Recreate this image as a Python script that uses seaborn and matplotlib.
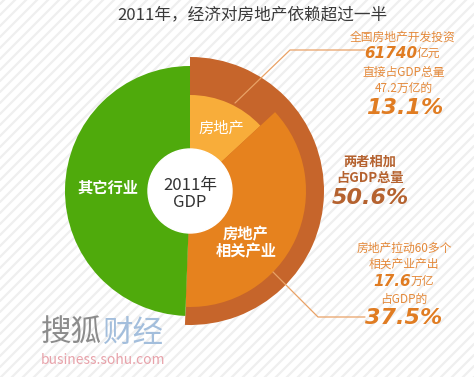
import matplotlib
matplotlib.use('Agg')
import matplotlib.pyplot as plt
import seaborn as sns

sns.set_theme(style='white')
plt.rcParams['font.family'] = ['Noto Sans CJK SC', 'DejaVu Sans']

W, H = 474, 377

# 2011年GDP构成（%），顺时针从12点开始
segments = ['房地产', '房地产\n相关产业', '其它行业']
shares = [13.1, 37.5, 49.4]
combined = [50.6, 49.4]          # 两者相加 / 其它
seg_colors = ['#F8AD3A', '#E6821E', '#4FAA0C']
ring_color = '#C6652B'

fig = plt.figure(figsize=(W / 100, H / 100), dpi=100)
ax = fig.add_axes([0, 0, 1, 1])

# striped background
for c in range(-W, H + W, 11):
    ax.plot([0, W], [c, c + W], color='#EFEFEF', lw=1.6, zorder=0)

cx, cy = 190, H - 191
ax.pie(combined, colors=[ring_color, 'none'], radius=134, center=(cx, cy),
       startangle=90, counterclock=False, wedgeprops=dict(linewidth=0))
inner, _ = ax.pie(shares, colors=seg_colors, radius=125, center=(cx, cy),
                  startangle=90, counterclock=False, wedgeprops=dict(linewidth=0))
for w, r in zip(inner, [96, 116, 125]):
    w.set_radius(r)
ax.add_patch(plt.Circle((cx, cy), 42, color='white', zorder=5))

ax.set_xlim(0, W)
ax.set_ylim(0, H)
ax.axis('off')


def txt(x, y, s, **kw):
    kw.setdefault('ha', 'center')
    kw.setdefault('va', 'center')
    ax.text(x, H - y, s, zorder=6, **kw)


# leader lines
lc = '#E9A266'
ax.plot([235, 290, 365], [H - 103, H - 50, H - 50], color=lc, lw=0.9, zorder=4)
ax.plot([273, 318, 365], [H - 272, H - 317, H - 317], color=lc, lw=0.9, zorder=4)

txt(252, 15, '2011年，经济对房地产依赖超过一半', fontsize=12, color='#3A3A3A')

# labels in pie
txt(108, 188, segments[2], fontsize=11, color='white', fontweight='bold')
txt(221, 128, segments[0], fontsize=11, color='white')
txt(246, 243, segments[1], fontsize=11, color='white', fontweight='bold', linespacing=1.1)
txt(190, 194, '2011年\nGDP', fontsize=12, color='#333333', linespacing=1.0)

# right annotations
oc = '#E4893A'
bc = '#E07C22'
num = dict(family='DejaVu Sans', fontweight='bold', style='italic')
txt(403, 37, '全国房地产开发投资', fontsize=8.5, color=oc)
txt(417, 53, '61740', fontsize=11, color=bc, ha='right', **num)
txt(417, 53, '亿元', fontsize=8.5, color=oc, ha='left')
txt(404, 72, '直接占GDP总量', fontsize=8.5, color=oc)
txt(404, 88, '47.2万亿的', fontsize=8.5, color=oc)
txt(405, 108, '13.1%', fontsize=16, color=bc, **num)

brown = '#B5622F'
txt(370, 162, '两者相加', fontsize=9.5, color=brown, fontweight='bold')
txt(370, 178, '占GDP总量', fontsize=9.5, color=brown, fontweight='bold')
txt(370, 198, '50.6%', fontsize=16, color=brown, **num)

txt(404, 248, '房地产拉动60多个', fontsize=8.5, color=oc)
txt(404, 264, '相关产业产出', fontsize=8.5, color=oc)
txt(411, 281, '17.6', fontsize=11, color=bc, ha='right', **num)
txt(411, 281, '万亿', fontsize=8.5, color=oc, ha='left')
txt(404, 299, '占GDP的', fontsize=8.5, color=oc)
txt(404, 318, '37.5%', fontsize=16, color=bc, **num)

# watermark
txt(41, 333, '搜狐', fontsize=22, color='#8C8C8C', ha='left')
txt(103, 333, '财经', fontsize=22, color='#A3BEDC', ha='left')
txt(103, 360, 'business.sohu.com', fontsize=10, color='#E8A2AA')

fig.savefig('out.png', dpi=100)
